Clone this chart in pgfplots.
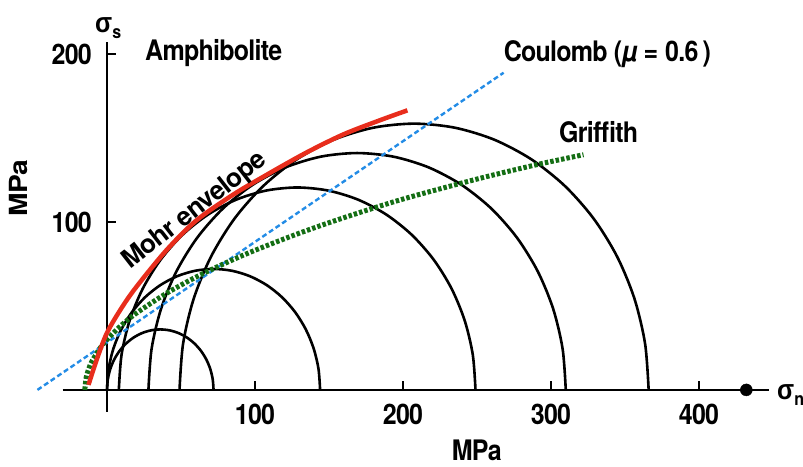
\documentclass[border=0pt]{standalone}
\usepackage{pgfplots}
\pgfplotsset{compat=1.18}
\usepackage{fontspec}
\setmainfont{TeX Gyre Heros}[LetterSpace=-3]
\newfontfamily\gr{Liberation Sans}
\usepackage{graphicx}
\newcommand{\T}[1]{\scalebox{1}[1.13]{#1}}
\definecolor{mred}{RGB}{232,45,28}
\definecolor{mblue}{RGB}{35,140,230}
\definecolor{mgreen}{RGB}{20,110,20}
\begin{document}
\fontsize{25}{30}\selectfont\bfseries
\begin{tikzpicture}[font=\fontsize{25}{30}\selectfont\bfseries]
\begin{axis}[
  x=1.48pt, y=1.68pt,
  xmin=-30, xmax=447, ymin=-13, ymax=207,
  axis lines=middle,
  axis line style={-, line width=2.6pt, black},
  clip=false,
  xtick={100,200,300,400}, ytick={100,200},
  xticklabels={\T{100},\T{200},\T{300},\T{400}},
  yticklabels={\T{100},\T{200}},
  tick align=inside,
  major tick length=9pt,
  tick style={line width=2.2pt, black},
  every tick label/.append style={font=\fontsize{25}{30}\selectfont\bfseries},
  xticklabel style={anchor=north, inner sep=0pt, yshift=-14pt},
  yticklabel style={anchor=east, inner sep=0pt, xshift=-15pt},
]
% Mohr circles
\addplot[black, line width=2.6pt, smooth] coordinates {
(72,0) (71.45,6.25) (69.83,12.31) (67.18,18) (63.58,23.14) (59.14,27.58) (54,31.18) (48.31,33.83) (42.25,35.45) (36,36)
(29.75,35.45) (23.69,33.83) (18,31.18) (12.86,27.58) (8.42,23.14) (4.82,18) (2.17,12.31) (0.55,6.25) (0,0)};
\addplot[black, line width=2.6pt, smooth] coordinates {
(144,0) (142.91,12.50) (139.66,24.62) (134.35,36) (127.15,46.28) (118.28,55.15) (108,62.35) (96.62,67.66) (84.5,70.91) (72,72)
(59.5,70.91) (47.38,67.66) (36,62.35) (25.72,55.15) (16.85,46.28) (9.65,36) (4.34,24.62) (1.09,12.5) (0,0)};
\addplot[black, line width=2.6pt, smooth] coordinates {
(249,0) (247.17,20.92) (241.73,41.21) (232.86,60.25) (220.80,77.46) (205.96,92.30) (188.75,104.36) (169.71,113.23) (149.42,118.67) (128.5,120.5)
(107.58,118.67) (87.29,113.23) (68.25,104.36) (51.04,92.30) (36.20,77.46) (24.14,60.25) (15.27,41.21) (9.83,20.92) (8,0)};
\addplot[black, line width=2.6pt, smooth] coordinates {
(310,0) (307.86,24.48) (301.50,48.22) (291.11,70.5) (277.01,90.63) (259.63,108.01) (239.5,122.11) (217.22,132.50) (193.48,138.86) (169,141)
(144.52,138.86) (120.78,132.50) (98.5,122.11) (78.37,108.01) (60.99,90.63) (46.89,70.5) (36.50,48.22) (30.14,24.48) (28,0)};
\addplot[black, line width=2.6pt, smooth] coordinates {
(366,0) (363.59,27.52) (356.44,54.21) (344.76,79.25) (328.91,101.88) (309.38,121.41) (286.75,137.26) (261.71,148.94) (235.02,156.09) (207.5,158.5)
(179.98,156.09) (153.29,148.94) (128.25,137.26) (105.62,121.41) (86.09,101.88) (70.24,79.25) (58.56,54.21) (51.41,27.52) (49,0)};
% Coulomb
\addplot[mblue, line width=2.4pt, dash pattern=on 5pt off 3pt] coordinates {(-47,0) (268,188.8)};
% Griffith
\addplot[mgreen, line width=5pt, dash pattern=on 3.5pt off 2pt, smooth] coordinates {
(-15,0) (-14,7.7) (-12,13.4) (-10,17.3) (-5,24.5) (0,30) (10,38.7) (20,45.8) (40,57.4) (60,67.1) (80,75.5) (100,83.1)
(130,93.3) (160,102.5) (200,113.6) (250,125.5) (290,134) (322,140)};
% Mohr envelope
\addplot[mred, line width=4.5pt, smooth] coordinates {
(-12.5,3) (-7,17.9) (0,34) (10,49) (20,61.5) (40,83) (60,100.6) (85,116.1) (110,129.1) (135,141.4) (160,152.2) (185,160.7) (203,166.4)};
% end dot on sigma_n axis
\addplot[only marks, mark=*, mark size=6pt, black] coordinates {(432,0)};
% labels
\node[anchor=base west, inner sep=0pt] at (axis cs:25.7,196) {\T{Amphibolite}};
\node[anchor=base west, inner sep=0pt] at (axis cs:268,195.4) {\T{Coulomb (\textit{µ}\;=\;0.6\,)}};
\node[anchor=base west, inner sep=0pt] at (axis cs:305.4,147.2) {\T{Griffith}};
\node[rotate=38, inner sep=0pt, font=\fontsize{26}{30}\selectfont\bfseries] at (axis cs:59.3,106.5) {Mohr envelope};
\node[anchor=base west, inner sep=0pt] at (axis cs:232.9,-42) {\T{MPa}};
\node[rotate=90, anchor=base, inner sep=0pt] at (axis cs:-53.4,120) {\scalebox{1.13}[1]{MPa}};
\node[anchor=base west, inner sep=0pt] at (axis cs:-8.1,212.5) {\T{{\gr σ}\raisebox{-5pt}{\fontsize{16}{16}\selectfont s}}};
\node[anchor=base west, inner sep=0pt] at (axis cs:452.7,-6) {\T{{\gr σ}\raisebox{-5pt}{\fontsize{16}{16}\selectfont n}}};
\coordinate (bbA) at (axis cs:-72.3,-45.8);
\coordinate (bbB) at (axis cs:470.3,232.1);
\end{axis}
\pgfresetboundingbox
\useasboundingbox (bbA) rectangle (bbB);
\end{tikzpicture}
\end{document}
